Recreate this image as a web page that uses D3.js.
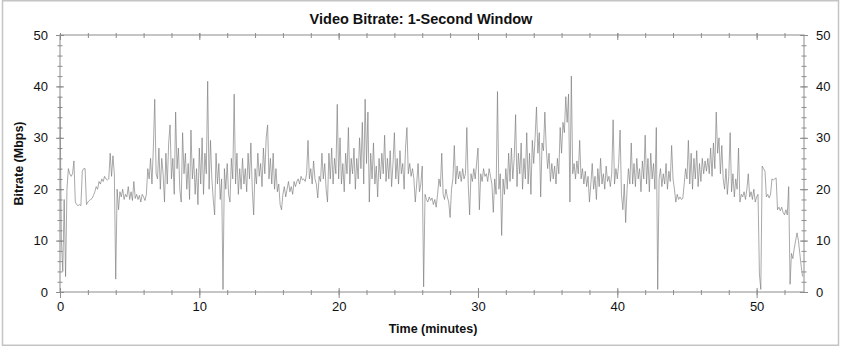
<!DOCTYPE html>
<html>
<head>
<meta charset="utf-8">
<script src="https://cdn.jsdelivr.net/npm/d3@7"></script>
<style>
  body { margin: 0; background: #fff; }
  svg { display: block; font-family: "Liberation Sans", Arial, sans-serif; }
</style>
</head>
<body>
<div id="chart"></div>
<script>
// bitrate samples (Mbps), one every 0.1 minute
const stepMin = 0.1;
const rateMin00 = [
  38, 10, 4, 18, 3, 20, 24, 23, 22.5, 23,
  25.5, 17.5, 17, 16.8, 17, 16.8, 23.5, 24, 24, 17,
  17.5, 17.8, 18, 18.2, 18.8, 19.5, 20.5, 20, 21.5, 21,
  22, 21.5, 22.5, 22, 21.8, 22, 27, 22.5, 26.5, 23,
  2.5, 20, 16, 19.5, 18.5, 20, 18, 19, 18.5, 20.5,
  18, 19.5, 17.8, 21.5, 18.2, 19, 18, 18.8, 17.5, 19,
  18.5, 17.8, 19, 24, 22, 26, 21, 28, 37.5, 23,
  22, 28, 20, 26, 23, 17.5, 27, 21, 29, 32.5,
  22, 26, 19, 35, 24, 28, 20, 17.5, 31, 23,
  27, 20, 25, 18, 31.5, 22, 26, 19, 24, 17
];
const rateMin10 = [
  28, 21, 30, 19, 27, 23, 41, 20, 29.5, 22,
  18, 15, 27, 21, 25, 18, 22, 0.5, 24, 20,
  25, 19, 17.5, 26, 22, 38.5, 21, 27, 19, 24,
  20, 26, 21, 24, 19.5, 27, 22, 29, 20, 15,
  24, 21, 27, 22.5, 25, 20.5, 28, 23, 30, 32.5,
  22, 26, 21, 27, 20, 24, 19.5, 21, 17, 16,
  19, 20.5, 18.5, 20, 21.5, 19.5, 20.5, 19, 21.5, 20.5,
  21.5, 22, 21, 22.5, 21.8, 22, 21.5, 23, 29.5, 22,
  24, 21, 25.5, 22, 21, 18.3, 22.5, 21.5, 27, 22,
  25, 20, 17.5, 27, 22, 28, 21, 26, 23, 36.5
];
const rateMin20 = [
  22, 30, 21, 25, 19.5, 27, 23, 32, 21, 26,
  23, 28, 20, 26, 22, 30, 24, 33, 21, 37.5,
  25, 35, 17.5, 27, 22, 29, 21, 24.5, 18.5, 26,
  22, 27, 23, 30.5, 21.5, 26, 22, 27.5, 20.5, 25,
  31, 22, 26, 21, 27.5, 23, 25, 20, 28, 32,
  23, 25, 22.5, 24, 22, 17.5, 21, 25, 19.5, 21,
  24.5, 1, 19, 18, 17.5, 18.5, 17.8, 18.3, 17, 18,
  16.5, 19, 22, 20.5, 27, 19, 18, 20, 18.5, 17.5,
  14.5, 20, 22, 28.5, 21, 24.5, 22, 23.5, 21.5, 24,
  22, 23, 32, 21, 15, 23, 21.5, 24, 22, 25
];
const rateMin30 = [
  28, 16, 23, 21.5, 24, 22.5, 23, 21.5, 24, 22.5,
  21, 15.5, 22, 19, 39, 20, 23, 11, 22, 19,
  24, 20, 27, 21.5, 28, 22, 26, 34.5, 20.5, 27,
  23, 29, 20, 26, 22, 31, 21, 27, 19, 29.5,
  25, 30, 36, 27, 31, 18.5, 29, 27.5, 35, 28,
  24, 27, 21.5, 25, 22, 24.5, 21, 26, 23, 32,
  27, 33, 31, 38, 33, 38.5, 17.5, 42, 23, 25,
  22, 25.5, 23, 29.5, 22, 24, 21, 23.5, 20.5, 22.5,
  17.5, 21, 25, 20, 22.5, 18, 24, 20.5, 26, 21,
  23, 20, 24.5, 21.5, 22.5, 20.5, 23, 33.5, 21, 24
];
const rateMin40 = [
  22, 25, 31.5, 19, 16, 21, 13.5, 20, 24, 21,
  29, 21, 25, 20.5, 26, 22, 24, 19.5, 25.5, 22,
  30.5, 21, 26, 19.5, 27, 22, 25, 20, 32, 0.5,
  22, 24, 20.5, 23, 21, 25, 20, 23.5, 21.5, 28.5,
  22, 20, 17.5, 19, 18, 18.5, 18, 18.2, 21, 24,
  22, 29.5, 21, 27, 20, 26, 22, 27.5, 20.5, 25,
  21.5, 26, 23, 25.5, 23.5, 26, 23, 28, 22.5, 29,
  24, 35, 27, 30, 23, 28.5, 22, 20, 24, 19,
  22.5, 31, 19.5, 23, 18.5, 22, 20, 28, 17.5, 19,
  18.5, 19.5, 18, 20, 23, 18.5, 19.5, 18, 20, 17.5
];
const rateMin50 = [
  18.5, 19, 3.5, 0.5, 24.5, 24, 23.5, 18.5, 19, 18.3,
  19, 22, 21.8, 22, 22.2, 16, 16.5, 15.8, 16.5, 15.5,
  15, 16, 15, 20.5, 1.5, 7.5, 6.5, 8.5, 10, 11.5,
  10, 7.5, 5, 3
];
const xMajorTicks = [0, 10, 20, 30, 40, 50];
const yMajorTicks = [0, 10, 20, 30, 40, 50];

const bitrate = [].concat(rateMin00, rateMin10, rateMin20, rateMin30, rateMin40, rateMin50);
const samples = bitrate.map((v, i) => ({ t: i * stepMin, v: v }));

const width = 843, height = 347;
const margin = {top: 35, right: 39, bottom: 55, left: 60};

const svg = d3.select('#chart').append('svg')
  .attr('width', width)
  .attr('height', height);

// outer frame
svg.append('rect')
  .attr('x', 2.5).attr('y', 0.75)
  .attr('width', 836).attr('height', 344.5)
  .attr('fill', 'none')
  .attr('stroke', '#c4c4c4')
  .attr('stroke-width', 1.5);

const x = d3.scaleLinear()
  .domain([0, 53.4])
  .range([margin.left, width - margin.right]);

const y = d3.scaleLinear()
  .domain([0, 50])
  .range([height - margin.bottom, margin.top]);

const axisColor = '#8c8c8c';
const x0 = x.range()[0], x1 = x.range()[1];
const y0 = y.range()[0], y1 = y.range()[1];

const xMinor = d3.range(0, 53.4, 2);
const yMinor = d3.range(0, 50.1, 2);

function styleAxis(g) {
  g.select('.domain').remove();
  g.selectAll('line').attr('stroke', axisColor);
  g.selectAll('text')
    .attr('fill', '#111')
    .style('font-size', '13px');
}

// bottom axis: minor + major ticks
svg.append('g')
  .attr('transform', 'translate(0,' + y0 + ')')
  .call(d3.axisBottom(x).tickValues(xMinor).tickSize(3).tickFormat(''))
  .call(styleAxis)
  .selectAll('line').attr('y1', -2);
svg.append('g')
  .attr('transform', 'translate(0,' + y0 + ')')
  .call(d3.axisBottom(x).tickValues(xMajorTicks).tickSize(6).tickPadding(4).tickFormat(d3.format('d')))
  .call(styleAxis)
  .selectAll('line').attr('y1', -4);

// top axis ticks
svg.append('g')
  .attr('transform', 'translate(0,' + y1 + ')')
  .call(d3.axisTop(x).tickValues(xMinor).tickSize(2).tickFormat(''))
  .call(styleAxis)
  .selectAll('line').attr('y1', 3);
svg.append('g')
  .attr('transform', 'translate(0,' + y1 + ')')
  .call(d3.axisTop(x).tickValues(xMajorTicks).tickSize(2).tickFormat(''))
  .call(styleAxis)
  .selectAll('line').attr('y1', 5);

// left axis
svg.append('g')
  .attr('transform', 'translate(' + x0 + ',0)')
  .call(d3.axisLeft(y).tickValues(yMinor).tickSize(2.5).tickFormat(''))
  .call(styleAxis)
  .selectAll('line').attr('x1', 2.5);
svg.append('g')
  .attr('transform', 'translate(' + x0 + ',0)')
  .call(d3.axisLeft(y).tickValues(yMajorTicks).tickSize(4).tickPadding(8).tickFormat(d3.format('d')))
  .call(styleAxis)
  .selectAll('line').attr('x1', 4);

// right axis
svg.append('g')
  .attr('transform', 'translate(' + x1 + ',0)')
  .call(d3.axisRight(y).tickValues(yMinor).tickSize(2.5).tickFormat(''))
  .call(styleAxis)
  .selectAll('line').attr('x1', -2.5);
svg.append('g')
  .attr('transform', 'translate(' + x1 + ',0)')
  .call(d3.axisRight(y).tickValues(yMajorTicks).tickSize(4).tickPadding(8).tickFormat(d3.format('d')))
  .call(styleAxis)
  .selectAll('line').attr('x1', -4);

// plot frame
svg.append('rect')
  .attr('x', x0).attr('y', y1)
  .attr('width', x1 - x0).attr('height', y0 - y1)
  .attr('fill', 'none')
  .attr('stroke', axisColor)
  .attr('stroke-width', 1);

// the bitrate trace
const line = d3.line()
  .x(d => x(d.t))
  .y(d => y(d.v));

svg.append('path')
  .datum(samples)
  .attr('fill', 'none')
  .attr('stroke', '#7a7a7a')
  .attr('stroke-width', 0.65)
  .attr('stroke-linejoin', 'miter')
  .attr('d', line);

// titles
svg.append('text')
  .attr('x', 421).attr('y', 24)
  .attr('text-anchor', 'middle')
  .style('font-size', '14.5px')
  .style('font-weight', 'bold')
  .attr('fill', '#111')
  .text('Video Bitrate: 1-Second Window');

svg.append('text')
  .attr('x', 433).attr('y', 333)
  .attr('text-anchor', 'middle')
  .style('font-size', '12.5px')
  .style('font-weight', 'bold')
  .attr('fill', '#111')
  .text('Time (minutes)');

svg.append('text')
  .attr('transform', 'translate(23,' + ((y0 + y1) / 2) + ') rotate(-90)')
  .attr('text-anchor', 'middle')
  .style('font-size', '12.5px')
  .style('font-weight', 'bold')
  .attr('fill', '#111')
  .text('Bitrate (Mbps)');
</script>
</body>
</html>
